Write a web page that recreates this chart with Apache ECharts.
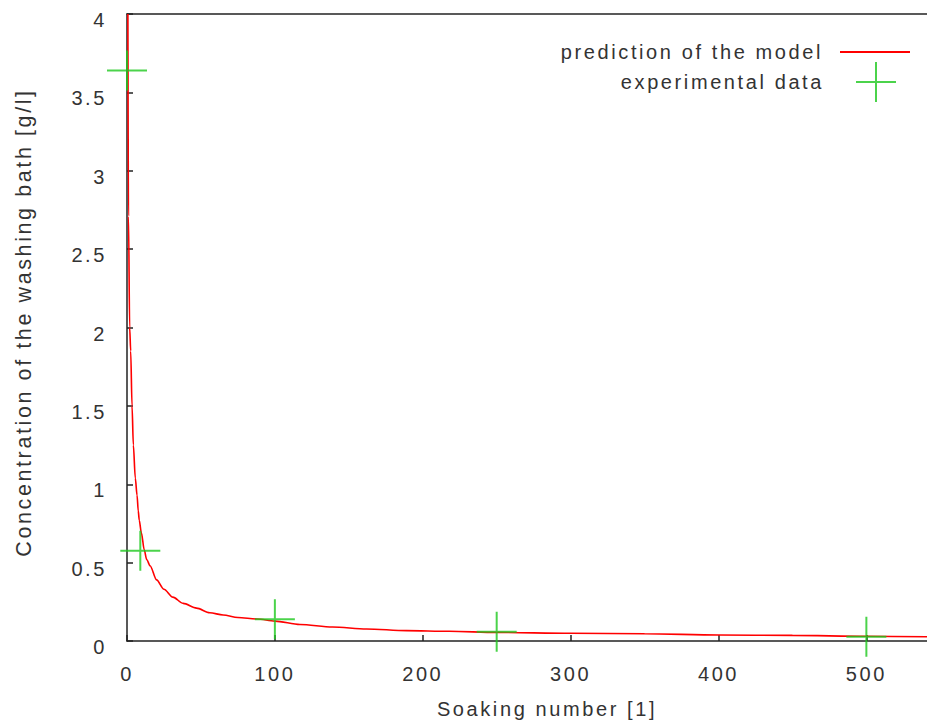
<!DOCTYPE html>
<html>
<head>
<meta charset="utf-8">
<script src="https://cdn.jsdelivr.net/npm/echarts@6/dist/echarts.min.js"></script>
<style>
  html, body { margin: 0; padding: 0; background: #fff; }
  #chart { width: 927px; height: 728px; letter-spacing: 2.6px; }
</style>
</head>
<body>
<div id="chart"></div>
<script>
// model curve
const modelX = [0.6, 1.0, 1.8, 2.5, 3.4, 4.3, 5.6, 6.8, 7.6, 8.3, 9.7, 11.7, 13.3, 15.6, 20, 25, 31, 38, 47, 56, 65, 75, 88, 100, 117, 139, 162, 189, 218, 250, 300, 350, 400, 450, 500, 541]
const modelY = [4.0, 2.71, 2.0, 1.85, 1.5, 1.25, 1.04, 0.93, 0.83, 0.77, 0.69, 0.58, 0.52, 0.48, 0.39, 0.33, 0.28, 0.24, 0.21, 0.18, 0.166, 0.15, 0.14, 0.127, 0.105, 0.089, 0.077, 0.066, 0.062, 0.055, 0.049, 0.046, 0.038, 0.036, 0.030, 0.027]

// measured points
const expX = [0, 9, 100, 250, 500]
const expY = [3.64, 0.576, 0.138, 0.059, 0.027]

const xTicks = [0, 100, 200, 300, 400, 500]
const yTicks = [0, 0.5, 1, 1.5, 2, 2.5, 3, 3.5, 4]

const crossIcon = "path://M19,0H21V40H19ZM0,19H40V21H0Z"
const textColor = "#333"
const green = "#1ec81e"
const fontFamily = "'Liberation Sans', Arial, sans-serif"

const chart = echarts.init(document.getElementById("chart"), null, { renderer: "svg" })

const option = {
  animation: false,
  textStyle: { fontFamily: fontFamily, fontSize: 20, color: textColor },
  grid: { left: 127, top: 14, right: 0, bottom: 87, containLabel: false },
  legend: [
    {
      data: [{ name: "prediction of the model", icon: "rect" }],
      right: 17,
      top: 42,
      padding: 0,
      align: "right",
      itemWidth: 70,
      itemHeight: 2,
      selectedMode: false,
      textStyle: { fontFamily: fontFamily, fontSize: 20, color: textColor, padding: [0, 12, 0, 0] }
    },
    {
      data: [{ name: "experimental data", icon: crossIcon }],
      right: 31,
      top: 62,
      padding: 0,
      align: "right",
      itemWidth: 40,
      itemHeight: 40,
      selectedMode: false,
      textStyle: { fontFamily: fontFamily, fontSize: 20, color: textColor, padding: [0, 27, 0, 0] }
    }
  ],
  xAxis: [
    {
      type: "value",
      min: 0,
      max: 541,
      name: "Soaking number [1]",
      nameLocation: "middle",
      nameGap: 58,
      nameTextStyle: { fontFamily: fontFamily, fontSize: 20, color: textColor, padding: [0, 0, 0, 40] },
      axisLine: { show: true, onZero: false, lineStyle: { color: "#222", width: 1.5 } },
      axisTick: { show: true, inside: true, length: 6, customValues: xTicks, lineStyle: { color: "#222", width: 1.5 } },
      axisLabel: { margin: 23, customValues: xTicks, color: textColor, fontSize: 20, fontFamily: fontFamily },
      splitLine: { show: false }
    },
    {
      type: "value",
      position: "top",
      min: 0,
      max: 541,
      axisLine: { show: true, onZero: false, lineStyle: { color: "#222", width: 1.5 } },
      axisTick: { show: false },
      axisLabel: { show: false },
      splitLine: { show: false }
    }
  ],
  yAxis: {
    type: "value",
    min: 0,
    max: 4,
    name: "Concentration of the washing bath [g/l]",
    nameLocation: "middle",
    nameGap: 92,
    nameTextStyle: { fontFamily: fontFamily, fontSize: 21.5, color: textColor, padding: [0, 0, 0, 10] },
    axisLine: { show: true, onZero: false, lineStyle: { color: "#222", width: 1.5 } },
    axisTick: { show: true, inside: true, length: 6, customValues: yTicks, lineStyle: { color: "#222", width: 1.5 } },
    axisLabel: { margin: 20, customValues: yTicks, color: textColor, fontSize: 20, fontFamily: fontFamily, verticalAlign: "top", lineHeight: 12 },
    splitLine: { show: false }
  },
  series: [
    {
      name: "prediction of the model",
      type: "line",
      data: modelX.map((x, i) => [x, modelY[i]]),
      showSymbol: false,
      symbol: "none",
      smooth: 0.3,
      smoothMonotone: "x",
      clip: true,
      color: "#ff0000",
      lineStyle: { color: "#ff0000", width: 1.6 },
      z: 2
    },
    {
      name: "experimental data",
      type: "scatter",
      data: expX.map((x, i) => [x, expY[i]]),
      symbol: crossIcon,
      symbolSize: 40,
      color: green,
      itemStyle: { color: green },
      clip: false,
      z: 3
    }
  ]
}

chart.setOption(option)
</script>
</body>
</html>
